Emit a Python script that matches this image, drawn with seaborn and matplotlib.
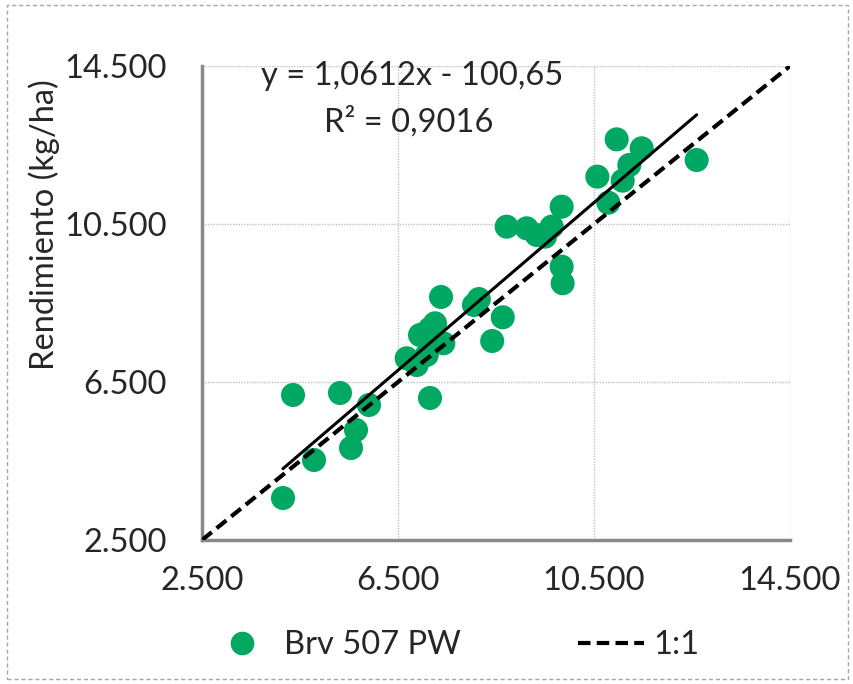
import matplotlib
matplotlib.use("Agg")
import matplotlib.pyplot as plt
import numpy as np
import seaborn as sns
from matplotlib.lines import Line2D
from matplotlib.patches import Rectangle

x_obs = [4357, 5316, 5908, 5643, 5541, 4786, 4153, 7153, 7378, 6677,
         6881, 7086, 6949, 7255, 7425, 7150, 8050, 8150, 8638, 8422,
         8718, 9126, 9330, 9636, 9500, 9840, 9840, 9860, 10963, 11473,
         11221, 11086, 10568, 10792, 12595]
y_obs = [6171, 6222, 5918, 5285, 4829, 4525, 3563, 6095, 8652, 7100,
         6930, 7184, 7690, 7986, 7480, 7850, 8450, 8600, 8138, 7538,
         10432, 10391, 10222, 10432, 10180, 10938, 9420, 9000, 12643, 12416,
         11994, 11597, 11699, 11040, 12120]

slope = 1.0612
intercept = -100.65
r2 = 0.9016

ticks = [2500, 6500, 10500, 14500]
tick_labels = ["2.500", "6.500", "10.500", "14.500"]

green = "#00A862"
grey = "#898989"
fs = 23.5

sns.set_style("white")
plt.rcParams['font.family'] = ['Lato', 'DejaVu Sans']

fig = plt.figure(figsize=(8.54, 6.84), dpi=100)
ax = fig.add_axes([202 / 854, 1 - 540 / 684, 588 / 854, 474 / 684])

sns.scatterplot(x=x_obs, y=y_obs, color=green, s=300, edgecolor="none",
                ax=ax, zorder=3, legend=False)

fit_x = np.array([min(x_obs), max(x_obs)])
sns.lineplot(x=fit_x, y=slope * fit_x + intercept, color="black", lw=2.2,
             ax=ax, zorder=4)
sns.lineplot(x=[ticks[0], ticks[-1]], y=[ticks[0], ticks[-1]], color="black",
             lw=3, ax=ax, zorder=4)
ax.lines[-1].set_linestyle((0, (3, 1.5)))

ax.set_xlim(2500, 14500)
ax.set_ylim(2500, 14500)
ax.set_xticks(ticks)
ax.set_yticks(ticks)
ax.set_xticklabels(tick_labels, fontsize=fs)
ax.set_yticklabels(tick_labels, fontsize=fs)
ax.tick_params(direction="inout", length=17, width=2.2, color=grey)
ax.tick_params(axis="x", pad=10)
ax.tick_params(axis="y", pad=17)
ax.grid(True, linestyle=(0, (1, 1)), color="#BFBFBF", lw=1)
for side in ["top", "right"]:
    ax.spines[side].set_visible(False)
for side in ["left", "bottom"]:
    ax.spines[side].set_color(grey)
    ax.spines[side].set_linewidth(2.5)

ax.set_ylabel("Rendimiento (kg/ha)", fontsize=fs)
ax.yaxis.set_label_coords(-0.242, 0.665)

ax.text(0.357, 0.960, f"y = {slope:.4f}x - {abs(intercept):.2f}".replace(".", ","),
        transform=ax.transAxes, ha="center", va="baseline", fontsize=fs)
ax.text(0.352, 0.861, f"R² = {r2:.4f}".replace(".", ","),
        transform=ax.transAxes, ha="center", va="baseline", fontsize=fs)

handles = [
    Line2D([], [], marker="o", color=green, linestyle="none", markersize=16),
    Line2D([], [], color="black", lw=3, linestyle=(0, (3, 1.5))),
]
fig.legend(handles, ["Brv 507 PW", "1:1"], loc="center",
           bbox_to_anchor=(0.532, 1 - 645 / 684), ncol=2, frameon=False,
           fontsize=fs, handlelength=2.0, columnspacing=3.6,
           handletextpad=0.3)

fig.patches.append(Rectangle((7 / 854, 5 / 684), 841 / 854, 674 / 684,
                             transform=fig.transFigure, fill=False,
                             edgecolor="#A6A6A6", lw=1, linestyle=(0, (3, 2))))

fig.savefig("out.png", dpi=100)
